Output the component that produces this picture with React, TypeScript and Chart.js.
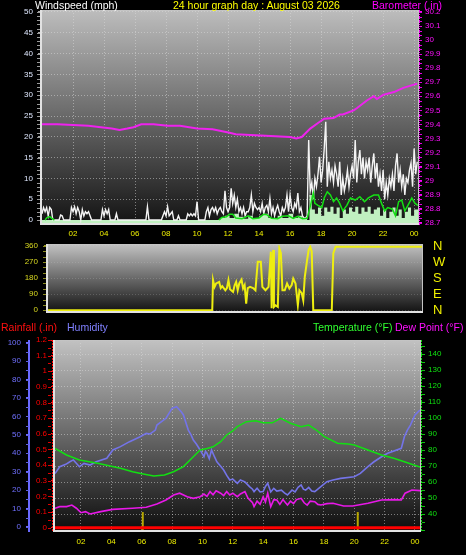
import React, { useEffect, useRef } from "react";
import { Chart, registerables } from "chart.js";

Chart.register(...registerables);

const FONT = '"Liberation Sans", Arial, sans-serif';

// ---------- axis ticks / labels ----------
const HOUR_TICKS = [2, 4, 6, 8, 10, 12, 14, 16, 18, 20, 22, 24];
const WIND_TICKS = [0, 5, 10, 15, 20, 25, 30, 35, 40, 45, 50];
const BARO_TICKS = [28.7, 28.8, 28.9, 29.0, 29.1, 29.2, 29.3, 29.4, 29.5, 29.6, 29.7, 29.8, 29.9, 30.0, 30.1, 30.2];
const DIR_TICKS = [0, 90, 180, 270, 360];
const COMPASS_LABELS = ["N", "E", "S", "W", "N"];
const HUM_TICKS = [0, 10, 20, 30, 40, 50, 60, 70, 80, 90, 100];
const RAIN_TICKS = [0, 0.1, 0.2, 0.3, 0.4, 0.5, 0.6, 0.7, 0.8, 0.9, 1.0, 1.1, 1.2];
const TEMP_TICKS = [40, 50, 60, 70, 80, 90, 100, 110, 120, 130, 140];

// ---------- series ----------
// wind gust (mph), one sample every GUST_STEP_H hours starting at 00:00
const GUST_STEP_H = 0.1;
const GUST_MPH = [
  1.5, 3, 2, 3, 1, 3, 2.5, 0, 0, 0,
  0, 0, 1.2, 1, 0, 0, 0, 0, 0, 3,
  2, 3.2, 1.5, 3, 2, 0, 2.5, 1, 2, 1.5,
  2, 1, 0, 0, 0, 0, 0, 0, 0, 2.5,
  1, 2.5, 1.5, 2.5, 0, 0, 0, 0, 1.5, 0,
  0, 0, 0, 0, 0, 0, 0, 0, 0, 0,
  0, 0, 0, 0, 0, 0, 0, 0, 3.2, 0,
  0, 0, 0, 0, 0, 0, 0, 0, 1, 2,
  1, 3.2, 1, 1.5, 2, 0, 0, 0, 1, 0,
  0, 0, 0, 0, 1.5, 1, 1.5, 1, 1.5, 1,
  4.4, 0, 0, 0, 0, 0, 2, 3, 1, 2.5,
  3, 2, 3, 1.5, 2.5, 3, 2, 1.5, 7, 3,
  2, 3, 7.6, 4, 6, 3, 5, 2, 3, 1.5,
  3, 1, 2, 2, 3, 6, 2, 4, 3, 2.5,
  3, 2, 4, 1.5, 3, 3.5, 2, 5.2, 1.5, 3,
  1, 2.5, 3.5, 2, 1, 3, 2, 3, 6, 2,
  6, 3, 2, 4, 3, 6.5, 2, 3, 1, 0.5,
  0.5, 1, 19.2, 7, 9, 5, 10, 8, 11, 15.2,
  9, 12, 17, 23.6, 8, 14, 10, 12, 9, 13,
  11, 8, 14, 6, 10, 7, 9, 12, 8, 11,
  13, 10, 19.2, 9, 14, 16.8, 11, 15, 10, 14,
  12, 15, 9, 13, 16, 10, 13.7, 8, 11, 7,
  12, 5, 9, 6, 10, 8, 11, 7, 13, 16,
  9, 12, 8, 11, 6, 10, 9, 12, 13.7, 8,
  17.2, 11, 14,
];

// average wind speed (mph): [hour, value]; null = no line drawn
const WIND_AVG_MPH: [number, number | null][] = [
  [0.2, 0], [0.3, 0.5], [0.5, 0.8], [0.7, 0.2], [0.8, 0], [5, null], [11.4, 0], [11.6, 0.6], [11.9, 0.8], [12.1, 1.4], [12.3, 1.4],
  [12.5, 0.5], [12.9, 0.3], [13.3, 1], [13.6, 0.3], [14.0, 0.5], [14.3, 1.4], [14.5, 1.3], [14.8, 0.4], [15.2, 0.3],
  [15.5, 0.9], [15.9, 1], [16.2, 0.4], [16.5, 0.9], [16.8, 0.3], [17.1, 0.4], [17.3, 3.2], [17.5, 6.5], [17.6, 4],
  [17.8, 3.5], [18.05, 3], [18.2, 5.3], [18.4, 6.8], [18.6, 6], [18.8, 4.4], [19.0, 5.3], [19.2, 4], [19.4, 2.2],
  [19.66, 3.5], [19.9, 5.3], [20.2, 4.8], [20.5, 5.6], [20.8, 4.4], [21.05, 5.3], [21.4, 6], [21.7, 6], [21.9, 4],
  [22.1, 2.2], [22.3, 3], [22.6, 2.6], [22.8, 1], [23.0, 4.4], [23.2, 4.8], [23.4, 2.2], [23.6, 3.5], [23.85, 5.3],
  [24.06, 4], [24.25, 3.5],
];

// low wind speed band (mph): [hour, value]
const WIND_LOW_MPH: [number, number][] = [
  [0, 0], [11.5, 0.5], [11.8, 1], [12.1, 0.5], [12.4, 1.5], [12.7, 0.8], [13.0, 0.3], [13.3, 1], [13.6, 0.5],
  [14.0, 1], [14.3, 1.5], [14.6, 0.5], [14.9, 0.3], [15.2, 1], [15.5, 0.5], [15.9, 1.5], [16.2, 0.5], [16.5, 1],
  [16.8, 0.3], [17.1, 0], [17.25, 6], [17.4, 2.5], [17.6, 1.5], [17.8, 3], [18.0, 1], [18.2, 3], [18.4, 2],
  [18.6, 3.2], [18.8, 1.5], [19.0, 3], [19.2, 0.5], [19.4, 2.5], [19.6, 1.5], [19.8, 3], [20.0, 2], [20.2, 3.2],
  [20.4, 1.5], [20.6, 3], [20.8, 2], [21.0, 3.2], [21.2, 1.5], [21.4, 2.5], [21.6, 3], [21.8, 1], [22.0, 2.5],
  [22.2, 0.5], [22.4, 2], [22.6, 3], [22.8, 1], [23.0, 2.5], [23.2, 0.5], [23.4, 2], [23.6, 3], [23.8, 1],
  [24.0, 2.5], [24.25, 2],
];

// barometer (in): [hour, value]
const BAROMETER_IN: [number, number][] = [
  [0, 29.40], [1, 29.40], [2, 29.395], [3, 29.39], [3.8, 29.38], [4.5, 29.37], [5.0, 29.36], [5.5, 29.37],
  [5.9, 29.38], [6.4, 29.40], [7.2, 29.40], [8.1, 29.39], [8.9, 29.39], [10, 29.37], [11, 29.365], [12.1, 29.34],
  [12.5, 29.33], [14.1, 29.32], [16, 29.31], [16.4, 29.30], [16.75, 29.31], [17.3, 29.37], [17.8, 29.41],
  [18.2, 29.44], [18.8, 29.445], [19.2, 29.47], [19.4, 29.47], [20.1, 29.50], [20.3, 29.515], [20.95, 29.57],
  [21.4, 29.60], [21.6, 29.58], [22.0, 29.61], [22.7, 29.63], [23.3, 29.66], [24.2, 29.69],
];

// wind direction (degrees): [hour, value]
const WIND_DIR_DEG: [number, number][] = [
  [0, 0], [10.65, 0], [10.7, 169], [10.8, 131], [10.9, 150], [11.1, 159], [11.2, 124], [11.3, 135], [11.5, 112],
  [11.6, 124], [11.7, 169], [11.8, 118], [12.0, 103], [12.1, 140], [12.2, 159], [12.3, 112], [12.4, 150],
  [12.55, 172], [12.65, 122], [12.75, 141], [12.85, 37], [12.95, 124], [13.1, 131], [13.3, 124], [13.45, 112],
  [13.6, 272], [13.8, 272], [13.9, 131], [14.1, 112], [14.3, 131], [14.45, 328], [14.5, 11], [14.6, 338],
  [14.65, 19], [14.75, 28], [14.9, 19], [15.0, 347], [15.1, 320], [15.2, 112], [15.35, 112], [15.5, 150],
  [15.65, 122], [15.8, 141], [15.9, 178], [16.05, 150], [16.2, 28], [16.3, 112], [16.45, 96], [16.55, 56],
  [16.65, 187], [16.8, 281], [16.9, 338], [17.0, 356], [17.1, 330], [17.2, 0], [18.4, 0], [18.5, 320],
  [18.65, 355], [24.25, 355],
];

// humidity (%): [hour, value]
const HUMIDITY: [number, number][] = [
  [0.29, 29], [0.6, 32.7], [1.0, 34], [1.27, 35.4], [1.5, 36.4], [1.9, 32.7], [2.2, 34.5], [2.6, 33.6], [3.0, 35.4],
  [3.7, 37.3], [4.1, 41.8], [4.6, 43.6], [5.2, 46.3], [5.9, 49], [6.3, 50.8], [6.55, 50.5], [6.9, 52.6], [7.0, 55.3],
  [7.6, 59], [8.0, 64.4], [8.3, 65.3], [8.6, 62.6], [8.75, 60.8], [9.07, 52.6], [9.25, 50], [9.4, 47.2], [9.6, 45],
  [9.85, 41.8], [10.1, 38.1], [10.2, 41], [10.3, 40], [10.45, 37], [10.6, 41.8], [10.8, 38], [10.95, 35.4],
  [11.2, 33], [11.4, 30.9], [11.6, 28], [11.8, 25.5], [12.0, 26], [12.3, 23.7], [12.5, 25.5], [12.8, 24.5],
  [13.1, 21.9], [13.3, 20.5], [13.4, 19.2], [13.6, 21], [13.8, 19], [14.0, 19.2], [14.15, 22], [14.3, 23.7],
  [14.5, 19], [14.7, 21], [14.9, 19.5], [15.2, 20], [15.4, 18.5], [15.6, 17.4], [15.9, 20], [16.1, 19],
  [16.3, 21.5], [16.5, 22.8], [16.65, 20.5], [16.8, 20], [17.0, 21.5], [17.2, 19.5], [17.4, 19.2], [17.8, 21.9],
  [18.2, 24.6], [18.6, 25.5], [19.1, 26.4], [20.0, 27.3], [20.4, 29.1], [20.9, 32.7], [21.3, 35.4], [21.8, 38.1],
  [22.2, 40], [23.1, 42.7], [23.3, 49], [23.5, 52.6], [23.7, 55.3], [24.0, 60.8], [24.33, 63.5],
];

// temperature (°F): [hour, value]
const TEMPERATURE: [number, number][] = [
  [0.29, 81], [1.05, 76.9], [1.9, 73.75], [3.1, 71.7], [4.6, 68.6], [5.4, 66.4], [6.1, 65], [6.8, 63.75],
  [7.5, 64.4], [8.1, 66.4], [8.75, 69.6], [9.4, 75.8], [9.85, 80], [10.3, 81], [10.7, 82], [11.2, 85.2],
  [11.6, 89.4], [12.0, 92], [12.3, 94.6], [12.9, 97.7], [13.5, 98.3], [14.0, 97], [14.6, 97], [15.15, 99.8],
  [15.8, 96.7], [16.5, 94.6], [17.0, 95.6], [17.5, 92.5], [18.0, 88.5], [18.9, 84.2], [19.6, 83.75], [20.0, 83.1],
  [20.9, 80], [21.8, 76.9], [22.6, 74.8], [23.3, 72.7], [24.33, 69.3],
];

// dew point (°F): [hour, value]
const DEW_POINT: [number, number][] = [
  [0.29, 43.6], [0.6, 44.6], [1.05, 44.6], [1.4, 45.6], [1.7, 43.6], [2.0, 40.8], [2.3, 41.5], [2.6, 40],
  [3.3, 41.5], [4.1, 42.9], [5.4, 43.6], [6.3, 44.2], [7.0, 46.25], [7.6, 48.75], [8.1, 51.9], [8.5, 53],
  [9.0, 50.8], [9.4, 49.8], [9.85, 50.8], [10.1, 52.5], [10.3, 51], [10.5, 54], [10.7, 52], [10.9, 54.5],
  [11.2, 53], [11.4, 51.5], [11.6, 54], [11.8, 51.9], [12.0, 53], [12.3, 50.8], [12.5, 52.5], [12.8, 54],
  [13.0, 50], [13.1, 49], [13.3, 47], [13.4, 44.6], [13.6, 48], [13.8, 46], [14.0, 50.8], [14.15, 47.5],
  [14.3, 53], [14.5, 44.6], [14.7, 49], [14.9, 48.75], [15.1, 46], [15.3, 49], [15.6, 45.6], [15.8, 48],
  [16.0, 46.5], [16.2, 49], [16.5, 49.8], [16.7, 47], [16.9, 45.6], [17.1, 48], [17.4, 47.7], [17.6, 46],
  [17.8, 45.6], [18.2, 46.5], [18.6, 46.7], [19.3, 45], [19.9, 45], [20.9, 46.7], [21.8, 48.75], [22.7, 49],
  [23.1, 48.75], [23.35, 53], [23.8, 55], [24.33, 54.6],
];

// rainfall (in): [hour, value]
const RAINFALL_IN: [number, number][] = [[0.29, 0], [24.33, 0]];
// yellow markers in the rain area: hours and height (in)
const RAIN_MARK_HOURS = [6.07, 20.23];
const RAIN_MARK_HEIGHT = 0.1;

const TITLE_LEFT = "Windspeed (mph)";
const TITLE_MID = "24 hour graph day : August 03 2026";
const TITLE_RIGHT = "Barometer (.in)";

// ---------- helpers ----------
const pts = (arr: [number, number | null][]) => arr.map(([x, y]) => ({ x, y }));
const fixTicks = (vals: number[]) => (scale: any) => {
  scale.ticks = vals.map((v) => ({ value: v }));
};
const fixWidth = (w: number) => (scale: any) => {
  scale.width = w;
  scale.paddingTop = 0;
  scale.paddingBottom = 0;
  scale.paddingLeft = 0;
  scale.paddingRight = 0;
};
const fixHeight = (h: number) => (scale: any) => {
  scale.height = h;
  scale.paddingTop = 0;
  scale.paddingBottom = 0;
  scale.paddingLeft = 0;
  scale.paddingRight = 0;
};
const hourLabel = (v: any) => String(Math.round(Number(v)) % 24).padStart(2, "0");
const dec1 = (v: any) => String(Math.round(Number(v) * 10) / 10);
const f8 = { family: FONT, size: 8 };
const GRID = "rgba(220,220,220,0.5)";

type AxisLine = { x: number; color: string; width: number; dash?: number[] };
type Minor = { scale: string; from: number; to: number; step: number; x1: number; x2: number; color: string };

function panelPlugin(id: string, top: string, bottom: string, lines: AxisLine[], minors: Minor[]) {
  return {
    id,
    beforeDraw(chart: any) {
      const { ctx, chartArea: a } = chart;
      const g = ctx.createLinearGradient(0, a.top, 0, a.bottom);
      g.addColorStop(0, top);
      g.addColorStop(1, bottom);
      ctx.save();
      ctx.fillStyle = g;
      ctx.fillRect(a.left, a.top, a.right - a.left, a.bottom - a.top);
      ctx.restore();
    },
    afterDraw(chart: any) {
      const { ctx, chartArea: a } = chart;
      ctx.save();
      ctx.lineWidth = 1;
      ctx.strokeStyle = "#c4c4c4";
      ctx.beginPath();
      ctx.moveTo(a.left, a.top + 0.5);
      ctx.lineTo(a.right, a.top + 0.5);
      ctx.moveTo(a.right + 0.5, a.top);
      ctx.lineTo(a.right + 0.5, a.bottom + 2);
      ctx.stroke();
      ctx.lineWidth = 2;
      ctx.strokeStyle = "#e2e2e2";
      ctx.beginPath();
      ctx.moveTo(a.left - 1, a.top);
      ctx.lineTo(a.left - 1, a.bottom + 1);
      ctx.lineTo(a.right + 1, a.bottom + 1);
      ctx.stroke();
      for (const l of lines) {
        ctx.strokeStyle = l.color;
        ctx.lineWidth = l.width;
        ctx.setLineDash(l.dash || []);
        ctx.beginPath();
        ctx.moveTo(l.x, a.top);
        ctx.lineTo(l.x, a.bottom + 2);
        ctx.stroke();
      }
      ctx.setLineDash([]);
      ctx.lineWidth = 1;
      for (const m of minors) {
        const s = chart.scales[m.scale];
        ctx.strokeStyle = m.color;
        ctx.beginPath();
        const n = Math.round((m.to - m.from) / m.step);
        for (let i = 0; i <= n; i++) {
          const y = Math.round(s.getPixelForValue(m.from + i * m.step)) + 0.5;
          ctx.moveTo(m.x1, y);
          ctx.lineTo(m.x2, y);
        }
        ctx.stroke();
      }
      ctx.restore();
    },
  };
}

const baseOpts = {
  responsive: false,
  animation: false as const,
  events: [] as any[],
};
const noPlugins = { legend: { display: false }, tooltip: { enabled: false } };

export default function App() {
  const topRef = useRef<HTMLCanvasElement>(null);
  const midRef = useRef<HTMLCanvasElement>(null);
  const botRef = useRef<HTMLCanvasElement>(null);

  useEffect(() => {
    const charts: Chart[] = [];

    // ---------- top: wind speed + barometer ----------
    charts.push(
      new Chart(topRef.current!, {
        type: "line",
        data: {
          datasets: [
            { label: "Barometer", data: pts(BAROMETER_IN), yAxisID: "yB", borderColor: "#ee22ee", borderWidth: 2, pointRadius: 0, order: 0 },
            { label: "Wind speed", data: pts(WIND_AVG_MPH), yAxisID: "y", borderColor: "#14e014", borderWidth: 1.5, pointRadius: 0, spanGaps: false, order: 1 },
            { label: "Gust", data: GUST_MPH.map((v, i) => ({ x: i * GUST_STEP_H, y: v })), yAxisID: "y", borderColor: "#f4f4f4", borderWidth: 1.4, pointRadius: 0, order: 2 },
            { label: "Low", data: pts(WIND_LOW_MPH), yAxisID: "y", borderColor: "rgba(0,0,0,0)", borderWidth: 1, backgroundColor: "#c0f0c0", fill: "start", stepped: true, pointRadius: 0, order: 3 },
          ] as any,
        },
        options: {
          ...baseOpts,
          layout: { padding: { top: 10, left: 0, right: 0, bottom: 0 } },
          plugins: noPlugins,
          scales: {
            x: {
              type: "linear", min: 0, max: 24.25, position: "bottom",
              afterBuildTicks: fixTicks(HOUR_TICKS), afterFit: fixHeight(22),
              ticks: { color: "#eeee00", font: f8, padding: 6, maxRotation: 0, autoSkip: false, callback: hourLabel },
              grid: { color: GRID, drawTicks: false },
              border: { display: false, dash: [1, 2] },
            },
            y: {
              type: "linear", position: "left", min: -0.72, max: 50.48,
              afterBuildTicks: fixTicks(WIND_TICKS), afterFit: fixWidth(42),
              ticks: { color: "#dfe8ff", font: f8, padding: 5, autoSkip: false },
              grid: { color: GRID, tickColor: "#a8a8a8", tickLength: 4 },
              border: { display: false, dash: [1, 2] },
            },
            yB: {
              type: "linear", position: "right", min: 28.698, max: 30.214,
              afterBuildTicks: fixTicks(BARO_TICKS), afterFit: fixWidth(48),
              ticks: { color: "#ff10ff", font: f8, padding: 3, autoSkip: false, callback: dec1 },
              grid: { drawOnChartArea: false, tickColor: "#ff00ff", tickLength: 4 },
              border: { display: false },
            },
          } as any,
        },
        plugins: [
          panelPlugin("panelTop", "#bdbdbd", "#141414",
            [{ x: 419.5, color: "#ff00ff", width: 1, dash: [1, 1] }],
            [
              { scale: "y", from: 0, to: 50, step: 1, x1: 37, x2: 40, color: "#9a9a9a" },
              { scale: "yB", from: 28.7, to: 30.2, step: 0.1 / 3, x1: 419, x2: 422, color: "#e000e0" },
            ]),
        ],
      })
    );

    // ---------- middle: wind direction ----------
    charts.push(
      new Chart(midRef.current!, {
        type: "line",
        data: {
          datasets: [
            { label: "Direction", data: pts(WIND_DIR_DEG), yAxisID: "y", borderColor: "#eeee10", borderWidth: 2, pointRadius: 0 },
          ] as any,
        },
        options: {
          ...baseOpts,
          layout: { padding: { top: 8, left: 0, right: 0, bottom: 9 } },
          plugins: noPlugins,
          scales: {
            x: { type: "linear", min: 0, max: 24.25, display: false },
            y: {
              type: "linear", position: "left", min: -4, max: 371,
              afterBuildTicks: fixTicks(DIR_TICKS), afterFit: fixWidth(48),
              ticks: { color: "#d8d820", font: f8, padding: 6, autoSkip: false },
              grid: { color: "rgba(210,210,210,0.22)", tickColor: "#9a9a20", tickLength: 4 },
              border: { display: false, dash: [1, 2] },
            },
            yC: {
              type: "linear", position: "right", min: -4, max: 371,
              afterBuildTicks: fixTicks(DIR_TICKS), afterFit: fixWidth(44),
              ticks: { color: "#f0f000", font: { family: FONT, size: 13 }, padding: 11, autoSkip: false, callback: (_v: any, i: number) => COMPASS_LABELS[i] },
              grid: { drawOnChartArea: false, drawTicks: false },
              border: { display: false },
            },
          } as any,
        },
        plugins: [
          panelPlugin("panelMid", "#c2c2c2", "#151515", [],
            [{ scale: "y", from: 0, to: 360, step: 30, x1: 43, x2: 46, color: "#8c8c20" }]),
        ],
      })
    );

    // ---------- bottom: temperature / dew point / humidity / rain ----------
    charts.push(
      new Chart(botRef.current!, {
        type: "line",
        data: {
          datasets: [
            { label: "Temperature", data: pts(TEMPERATURE), yAxisID: "yT", borderColor: "#12e012", borderWidth: 1.5, pointRadius: 0 },
            { label: "Dew Point", data: pts(DEW_POINT), yAxisID: "yT", borderColor: "#e818e8", borderWidth: 1.6, pointRadius: 0 },
            { label: "Humidity", data: pts(HUMIDITY), yAxisID: "yH", borderColor: "#7474e8", borderWidth: 1.6, pointRadius: 0 },
            { label: "Rainfall", data: pts(RAINFALL_IN), yAxisID: "yR", borderColor: "#ff0000", borderWidth: 3, pointRadius: 0 },
            ...RAIN_MARK_HOURS.map((h) => ({
              label: "mark", data: [{ x: h, y: -0.02 }, { x: h, y: RAIN_MARK_HEIGHT }], yAxisID: "yR",
              borderColor: "#b8a800", borderWidth: 2, pointRadius: 0,
            })),
          ] as any,
        },
        options: {
          ...baseOpts,
          layout: { padding: { top: 25, left: 0, right: 0, bottom: 0 } },
          plugins: noPlugins,
          scales: {
            x: {
              type: "linear", min: 0.29, max: 24.33, position: "bottom",
              afterBuildTicks: fixTicks(HOUR_TICKS), afterFit: fixHeight(25),
              ticks: { color: "#eeee00", font: f8, padding: 7, maxRotation: 0, autoSkip: false, callback: hourLabel },
              grid: { color: GRID, drawTicks: false },
              border: { display: false, dash: [1, 2] },
            },
            yH: {
              type: "linear", position: "left", weight: 2, min: -1.63, max: 101.47,
              afterBuildTicks: fixTicks(HUM_TICKS), afterFit: fixWidth(30),
              ticks: { color: "#7070ff", font: f8, padding: 5, autoSkip: false },
              grid: { drawOnChartArea: false, tickColor: "#6a6aff", tickLength: 4 },
              border: { display: false },
            },
            yR: {
              type: "linear", position: "left", weight: 1, min: -0.0147, max: 1.2,
              afterBuildTicks: fixTicks(RAIN_TICKS), afterFit: fixWidth(25),
              ticks: { color: "#ff0000", font: f8, padding: 4, autoSkip: false, callback: dec1 },
              grid: { drawOnChartArea: false, tickColor: "#ff2020", tickLength: 4 },
              border: { display: false },
            },
            yT: {
              type: "linear", position: "right", min: 30, max: 148.75,
              afterBuildTicks: fixTicks(TEMP_TICKS), afterFit: fixWidth(46),
              ticks: { color: "#10e010", font: f8, padding: 4, autoSkip: false },
              grid: { color: GRID, tickColor: "#10e010", tickLength: 4 },
              border: { display: false, dash: [1, 2] },
            },
          } as any,
        },
        plugins: [
          panelPlugin("panelBot", "#c2c2c2", "#0e0e0e",
            [
              { x: 29, color: "#6a6aff", width: 2 },
              { x: 52.5, color: "#ff0000", width: 1, dash: [2, 1] },
              { x: 421.5, color: "#10e010", width: 1, dash: [2, 1] },
            ],
            [
              { scale: "yH", from: 0, to: 100, step: 5, x1: 26, x2: 29, color: "#6060e0" },
              { scale: "yR", from: 0, to: 1.2, step: 0.05, x1: 48, x2: 51, color: "#e00000" },
              { scale: "yT", from: 30, to: 145, step: 5, x1: 422, x2: 425, color: "#10c010" },
            ]),
        ],
      })
    );

    return () => charts.forEach((c) => c.destroy());
  }, []);

  const t = (left: number, top: number, color: string, text: string) => (
    <div style={{ position: "absolute", left, top, color, fontSize: 10.5, lineHeight: "12px", whiteSpace: "nowrap", fontFamily: FONT }}>
      {text}
    </div>
  );

  return (
    <div style={{ position: "absolute", left: 0, top: 0, width: 466, height: 555, background: "#000", overflow: "hidden" }}>
      <canvas ref={topRef} width={466} height={245} style={{ position: "absolute", left: 0, top: 0, width: 466, height: 245 }} />
      <canvas ref={midRef} width={466} height={84} style={{ position: "absolute", left: 0, top: 236, width: 466, height: 84 }} />
      <canvas ref={botRef} width={466} height={240} style={{ position: "absolute", left: 0, top: 315, width: 466, height: 240 }} />
      {t(35, -1, "#ffffff", TITLE_LEFT)}
      {t(173, -1, "#ffff00", TITLE_MID)}
      {t(372, -1, "#ff00ff", TITLE_RIGHT)}
      {t(1, 321, "#ff1010", "Rainfall (.in)")}
      {t(67, 321, "#8080ff", "Humidity")}
      {t(313, 321, "#30ff30", "Temperature (°F)")}
      {t(395, 321, "#ff10ff", "Dew Point (°F)")}
    </div>
  );
}
